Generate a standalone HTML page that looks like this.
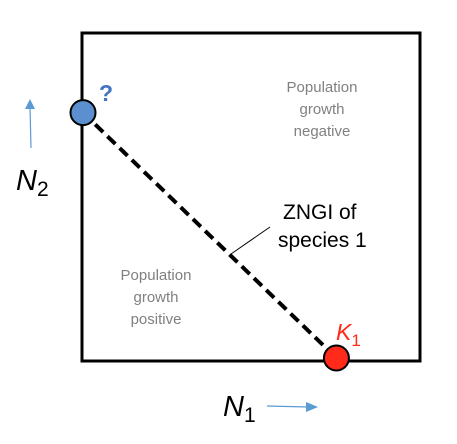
<!DOCTYPE html>
<html><head><meta charset="utf-8"><style>
html,body{margin:0;padding:0;background:#fff;}
svg{display:block;font-family:"Liberation Sans",sans-serif;}
</style></head><body>
<svg id="chart" width="457" height="444" viewBox="0 0 457 444">
<rect x="82" y="33" width="338" height="328" fill="none" stroke="#000" stroke-width="3"/>
<g id="marks"></g>
<line x1="231" y1="254" x2="270" y2="227" stroke="#000" stroke-width="1"/>
<text x="283" y="219" font-size="21" fill="#000">ZNGI of</text>
<text x="278" y="247" font-size="21" fill="#000">species 1</text>
<text x="322" y="92" font-size="15" fill="#808080" text-anchor="middle"><tspan x="322">Population</tspan><tspan x="322" dy="22">growth</tspan><tspan x="322" dy="22">negative</tspan></text>
<text x="156" y="280" font-size="15" fill="#808080" text-anchor="middle"><tspan x="156">Population</tspan><tspan x="156" dy="22">growth</tspan><tspan x="156" dy="22">positive</tspan></text>
<text x="99" y="101" font-size="23" font-weight="bold" fill="#4472c4">?</text>
<text x="336" y="340" font-size="23" font-style="italic" fill="#ff2a1a">K<tspan font-size="17" font-style="normal" dy="6">1</tspan></text>
<text x="16" y="190" font-size="29" font-style="italic" fill="#000">N<tspan font-size="21" font-style="normal" dy="6">2</tspan></text>
<text x="223" y="416" font-size="29" font-style="italic" fill="#000">N<tspan font-size="21" font-style="normal" dy="6">1</tspan></text>
<line x1="31" y1="148" x2="30" y2="107" stroke="#5b9bd5" stroke-width="1.2"/>
<polygon points="30,99 25,109 35,109" fill="#5b9bd5"/>
<line x1="267" y1="406" x2="308" y2="407" stroke="#5b9bd5" stroke-width="1.2"/>
<polygon points="318,407 306,402 306,412" fill="#5b9bd5"/>
</svg>
<script>
// ZNGI intercepts (data units, axis 0..1)
const k1Value = [0.752];  // N1 intercept
const k2Value = [0.755];  // N2 intercept
const axisMin = [0];
const X0 = 83, X1 = 420, Y0 = 358, Y1 = 33;
function xScale(v){ return X0 + (v - axisMin[0]) * (X1 - X0); }
function yScale(v){ return Y0 - (v - axisMin[0]) * (Y0 - Y1); }
const NS = "http://www.w3.org/2000/svg";
const g = document.getElementById('marks');
const ax = xScale(0), ay = yScale(k2Value[0]);
const bx = xScale(k1Value[0]), by = yScale(0);
const ln = document.createElementNS(NS, 'line');
ln.setAttribute('x1', ax); ln.setAttribute('y1', ay);
ln.setAttribute('x2', bx); ln.setAttribute('y2', by);
ln.setAttribute('stroke', '#000'); ln.setAttribute('stroke-width', '4');
ln.setAttribute('stroke-dasharray', '11 6');


g.appendChild(ln);
const c1 = document.createElementNS(NS, 'circle');
c1.setAttribute('cx', ax); c1.setAttribute('cy', ay); c1.setAttribute('r', 12.5);
c1.setAttribute('fill', '#5b8fd0'); c1.setAttribute('stroke', '#000'); c1.setAttribute('stroke-width', '2');


g.appendChild(c1);
const c2 = document.createElementNS(NS, 'circle');
c2.setAttribute('cx', bx); c2.setAttribute('cy', by); c2.setAttribute('r', 12.5);
c2.setAttribute('fill', '#ff2a1a'); c2.setAttribute('stroke', '#000'); c2.setAttribute('stroke-width', '2');


g.appendChild(c2);
</script>
</body></html>
